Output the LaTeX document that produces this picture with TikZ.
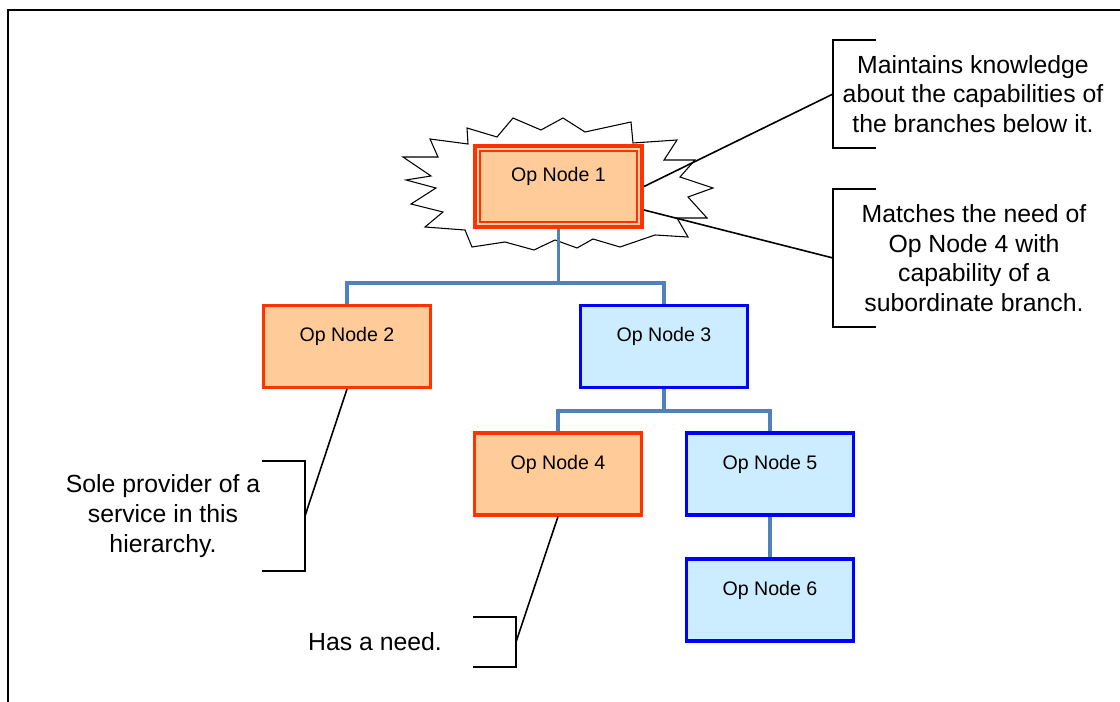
\documentclass[tikz,border=0pt]{standalone}
\usepackage{fontspec}
\setmainfont{Liberation Sans}
\usetikzlibrary{calc}
\definecolor{peach}{HTML}{FFCC99}
\definecolor{hotred}{HTML}{FF3300}
\definecolor{paleblue}{HTML}{CCECFF}
\definecolor{pureblue}{HTML}{0000FF}
\definecolor{linkblue}{HTML}{4F81BD}
\definecolor{paleline}{HTML}{FFD2B4}
\begin{document}
\begin{tikzpicture}[x=0.75pt,y=-0.75pt,
  opbox/.style={rectangle, minimum width=125pt, minimum height=61.2pt,
    line width=2.6pt, inner sep=0pt,
    font=\fontsize{14.7pt}{17pt}\selectfont, text height=10.7pt, text depth=18pt},
  hotbox/.style={opbox, draw=hotred, fill=peach},
  coolbox/.style={opbox, draw=pureblue, fill=paleblue},
  link/.style={draw=linkblue, line width=2.6pt},
  leader/.style={draw=black, line width=1.2pt},
  bracket/.style={draw=black, line width=1.2pt},
  note/.style={align=center, inner sep=0pt,
    font=\fontsize{18.6pt}{22.2pt}\selectfont},
  burst/.style={draw=black, fill=white, line width=0.8pt, line join=miter}
]
\useasboundingbox (0,0) rectangle (1120,702);

% frame
\draw[line width=1.4pt] (8,702) -- (8,10) -- (1120,10);

% starburst behind the top node
\draw[burst] (403,157) -- (438,157) -- (430,139) -- (468,144) -- (467,128)
  -- (497,137) -- (513,118) -- (541,130) -- (563,118) -- (585,132)
  -- (631,122) -- (633,143) -- (677,140) -- (664,160) -- (695,160)
  -- (680,177) -- (713,188) -- (688,197) -- (707,218) -- (677,218)
  -- (688,237) -- (655,235) -- (620,247) -- (593,239) -- (577,248)
  -- (555,240) -- (534,250) -- (505,242) -- (472,247) -- (465,230)
  -- (425,227) -- (443,212) -- (411,204) -- (436,188) -- (406,180)
  -- (431,176) -- cycle;

% top node with its double red border
\node[opbox, minimum width=128.25pt, minimum height=63.75pt, line width=0pt,
  outer sep=0pt, fill=peach] (n1) at (558.5,186.5) {Op Node 1};
\draw[hotred, line width=6pt]
  ([shift={(4,4)}]n1.north west) rectangle ([shift={(-4,-4)}]n1.south east);
\draw[paleline, line width=0.8pt]
  ([shift={(5,5)}]n1.north west) rectangle ([shift={(-5,-5)}]n1.south east);

% the other nodes
\node[hotbox]  (n2) at (347,346.5) {Op Node 2};
\node[coolbox] (n3) at (664,346.5) {Op Node 3};
\node[hotbox]  (n4) at (558,474)   {Op Node 4};
\node[coolbox] (n5) at (770,474)   {Op Node 5};
\node[coolbox] (n6) at (770,600)   {Op Node 6};

% hierarchy links
\coordinate (bus1) at (558.5,283);
\coordinate (bus2) at (664,411);
\draw[link] (n1.south) |- (bus1) -| (n2.north);
\draw[link] (n1.south) |- (bus1) -| (n3.north);
\draw[link] (n3.south) |- (bus2) -| (n4.north);
\draw[link] (n3.south) |- (bus2) -| (n5.north);
\draw[link] (n5.south) -- (n6.north);

% callout texts
\node[note] (c1) at (973,94)  {Maintains knowledge\\about the capabilities of\\the branches below it.};
\node[note] (c2) at (974,258) {Matches the need of\\Op Node 4 with\\capability of a\\subordinate branch.};
\node[note] (c3) at (163,516) {Sole provider of a\\service in this\\hierarchy.};
\node[note] (c4) at (375,642) {Has a need.};

% callout brackets
\draw[bracket] (876,40) -- (833,40) -- (833,148) -- (876,148);
\draw[bracket] (876,189) -- (833,189) -- (833,327) -- (876,327);
\draw[bracket] (262,461) -- (305,461) -- (305,571) -- (262,571);
\draw[bracket] (473,617) -- (516,617) -- (516,667) -- (473,667);
\coordinate (k1) at (833,94);
\coordinate (k2) at (833,258);
\coordinate (k3) at (305,516);
\coordinate (k4) at (516,642);

% callout leaders
\draw[leader] (n1.east) -- (k1);
\draw[leader] ($(n1.east)+(0,23.5)$) -- (k2);
\draw[leader] (n2.south) -- (k3);
\draw[leader] (n4.south) -- (k4);
\end{tikzpicture}
\end{document}
